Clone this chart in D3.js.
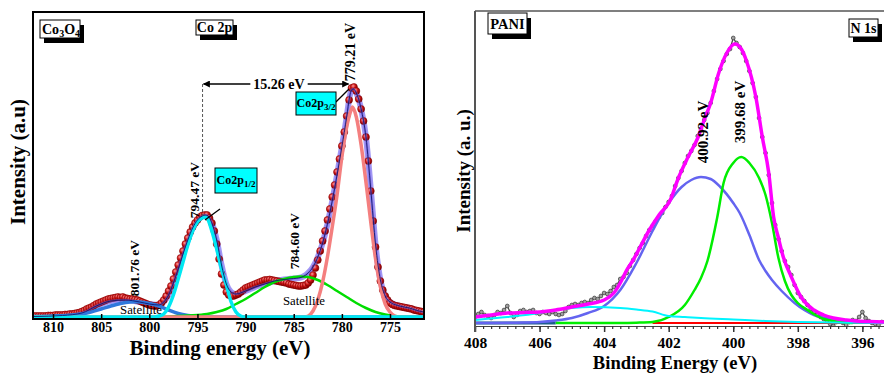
<!DOCTYPE html>
<html><head><meta charset="utf-8">
<script src="https://cdn.jsdelivr.net/npm/d3@7"></script>
<style>
body{margin:0;background:#fff}
svg{display:block}
text{font-family:"Liberation Serif","Times New Roman",serif}
</style></head>
<body><svg id="chart" width="884" height="374"></svg>
<script>
// ---------------- DATA : Co 2p (Co3O4) ----------------
const co2pStart = 812, co2pStep = 0.25;   // binding energy grid of measured spectrum (eV)
const co2pIntensity = [
 1,1,1,1, 1,1,1.5,1.5, 1.5,2,2,2, 2,2.5,2.5,3, 3,3.5,4,4.5,
 5.5,6.5,8,9, 10,11.5,13,14, 15,16,17,18, 18.5,19,19.5,20, 19.5,20,19,18.5,
 18,18,17.5,17, 16,15,14,13, 12,11.5,11,11, 12,14,17,21, 26,31,38,45,
 52,59,66,73, 79,85,90,94, 97,100,101.5,102, 102,99,94,86, 73,58,43,32,
 25,22,21,21, 22,23,25,27, 29,30,31,32, 33,34,35,36, 37,37,37.5,37,
 36.5,36,35.5,35, 34.5,34,33,32.5, 32,31.5,31,31, 31.5,32,34,37, 42,49,57,66,
 76,86,97,108, 120,132,145,158, 171,185,201,217, 229,230,226,218, 208,196,180,156,
 126,96,70,50, 36,27,21,17, 14,12.5,11.5,11, 10.5,10,9.5,9, 8.5,8,7,6.5,
 6,5.5,5
];
const co2pEnvelope = [[812,0.5],[809,1.5],[807,4],[805.5,11],[804,16],[802.5,17],[801,15],[800,13],[799,12],[798.5,15],[798,22],[797.5,34],[797,48],[796.5,63],[796,77],[795.5,89],[795,97],[794.5,101],[794.2,102],[793.9,101],[793.5,94],[793,77],[792.5,52],[792,33],[791.5,25],[791,23],[790,26],[789,30],[788,33],[787,36],[786,37.5],[785,38.5],[784.5,39],[784,40.5],[783.5,44],[783,50],[782.5,60],[782,74],[781.5,93],[781,116],[780.5,142],[780,170],[779.5,200],[779.2,220],[779,227],[778.8,228],[778.5,224],[778,208],[777.5,180],[777,128],[776.5,72],[776,37],[775.5,21],[775,15],[774,11],[773,9],[772,6],[771.5,5]];
const co2p32 = [[812,0],[784,0],[783.5,1],[783,6],[782.5,17],[782,35],[781.5,60],[781,90],[780.5,122],[780,160],[779.5,190],[779,208],[778.9,210],[778.5,200],[778,172],[777.5,135],[777,95],[776.5,58],[776,30],[775.5,13],[775,5],[774.5,1],[774,0],[771.5,0]];
const co2p12 = [[812,0],[799.5,0],[799,1],[798.5,3],[798,10],[797.5,22],[797,38],[796.5,55],[796,72],[795.5,86],[795,95],[794.5,99],[794.2,100],[794,99],[793.5,86],[793,68],[792.5,48],[792,32],[791.5,15],[791,5],[790.5,1],[790,0],[771.5,0]];
const satGreen = [[800,0],[798,0.5],[796,1.5],[794,3],[793,5],[792,8],[791,13],[790,18],[789,24],[788,30],[787,35],[786,38],[785,40],[784.3,40.5],[783.5,40],[782.5,37],[781.5,32],[780.5,26],[779.5,20],[778.5,14],[777.5,9],[776.5,5],[775.5,2.5],[774.5,1],[773,0]];
const satBlue = [[812,0.5],[810,1],[808,2],[806.5,4],[805,8],[804,11],[803,13.5],[802,15],[801.5,15.2],[801,15],[800,13.5],[799,11],[798,7],[797,3.5],[796,1.5],[795,0.5],[793,0],[771.5,0]];
const co2pTicks = [810,805,800,795,790,785,780,775];
const co2pPeaks = {p32:779.21, p12:794.47, sat1:784.60, sat2:801.76};

// ---------------- DATA : N 1s (PANI) ----------------
const n1sStart = 408.0, n1sStep = 0.1;
const n1sIntensity = [
 6,9,11,8,7,5,8,11,10,13,
 17,10,6,8,12,13,11,12,13,10,
 9,11,10,9,11,9,8,9,12,16,
 18,19,18,20,21,20,23,25,24,27,
 30,29,32,36,38,44,46,50,57,63,
 69,75,80,87,93,97,102,106,110,116,
 121,127,137,145,152,160,167,172,178,187,
 194,203,210,220,232,244,254,262,269,274,
 285,280,276,270,262,252,240,226,205,186,
 170,148,120,98,84,72,62,56,48,38,
 30,26,22,18,14,11,8,6,4,2,
 -1,-3,1,2,0,-2,1,3,2,6,
 11,5,2,0,-1,-2,1,1
];
const n1sEnvelope = [[408,6],[407.5,8],[407,10],[406.5,10.5],[406,11],[405.5,13],[405,16],[404.5,19],[404,23],[403.7,30],[403.5,40],[403.3,53],[403.1,63],[402.9,75],[402.6,93],[402.3,108],[401.95,123],[401.7,145],[401.4,166],[401.1,185],[400.9,203],[400.7,220],[400.45,250],[400.2,270],[399.95,279],[399.75,274],[399.6,263],[399.3,226],[399.1,186],[398.9,150],[398.75,106],[398.6,85],[398.45,66],[398.2,46],[397.9,26],[397.5,13],[397.2,8],[396.9,5],[396.5,3],[396.2,2],[395.8,1.5],[395.3,1]];
const n1sGreen = [[405.5,0],[403.5,0],[403,0.3],[402.5,1],[402,6],[401.5,18],[401.2,33],[401,45],[400.8,62],[400.5,105],[400.3,140],[400,160],[399.75,166],[399.5,160],[399.2,145],[399,128],[398.8,100],[398.6,65],[398.4,42],[398.2,28],[398,20],[397.7,13],[397.4,7],[397.2,4],[396.8,1.5],[396.3,0]];
const n1sBlue = [[408,0],[406.5,0.5],[406,1],[405.5,2.5],[405,5],[404.5,10],[404,17],[403.5,33],[403,60],[402.5,92],[402.2,110],[402,120],[401.6,136],[401.3,143],[401,146],[400.7,144],[400.4,136],[400,120],[399.8,110],[399.5,88],[399.2,63],[399,52],[398.8,43],[398.5,32],[398.1,20],[397.8,13],[397.5,8],[397,4],[396.5,2],[396,1],[395.3,0.5]];
const n1sCyan = [[408,3],[407,6],[406,10],[405.5,13],[405,15],[404.4,16],[403.5,15],[403,13.5],[402.5,11.5],[402,7],[401.5,6],[401,5],[400,3.5],[399,2],[398,1],[397,0.5],[395.3,0]];
const n1sBaseTeal = [[408,0],[405.5,0]];
const n1sBaseRed = [[402.5,0],[395.3,0]];
const n1sMajorTicks = [408,406,404,402,400,398,396];
const n1sPeaks = {a:400.92, b:399.68};

// ---------------- DRAWING ----------------
const svg = d3.select("#chart");
const defs = svg.append("defs");
const grad = defs.append("radialGradient").attr("id","ball").attr("cx","38%").attr("cy","35%").attr("r","65%");
grad.append("stop").attr("offset","0%").attr("stop-color","#ff9c9c");
grad.append("stop").attr("offset","50%").attr("stop-color","#d01515");
grad.append("stop").attr("offset","100%").attr("stop-color","#780000");
defs.append("marker").attr("id","arr").attr("viewBox","0 0 10 10").attr("refX",9).attr("refY",5)
  .attr("markerWidth",9).attr("markerHeight",7).attr("markerUnits","userSpaceOnUse").attr("orient","auto")
  .append("path").attr("d","M0,0L10,5L0,10z").attr("fill","#000");

function boxLabel(g, x, y, w, h, build, fill, shadow){
  if(shadow) g.append("rect").attr("x",x+4).attr("y",y+5).attr("width",w).attr("height",h).attr("fill","#000");
  g.append("rect").attr("x",x).attr("y",y).attr("width",w).attr("height",h).attr("fill",fill).attr("stroke","#000").attr("stroke-width",1);
  const t = g.append("text").attr("font-weight","bold");
  build(t);
  return t;
}

// ===== LEFT PANEL =====
const L = {x0:33, x1:424, y0:12, y1:319};
const xL = d3.scaleLinear().domain([812.08, 771.47]).range([L.x0, L.x1]);
const yL = d3.scaleLinear().domain([0, 305]).range([317, 12]);
const gL = svg.append("g");
defs.append("clipPath").attr("id","clipL").append("rect").attr("x",L.x0).attr("y",L.y0).attr("width",L.x1-L.x0).attr("height",L.y1-L.y0+1);
const pL = gL.append("g").attr("clip-path","url(#clipL)");
const lineL = d3.line().x(d=>xL(d[0])).y(d=>yL(d[1])).curve(d3.curveMonotoneX);

pL.append("path").attr("d",lineL(co2pEnvelope)).attr("fill","none").attr("stroke","#8a7cf2").attr("stroke-width",6).attr("stroke-opacity",0.8);
pL.selectAll("circle.pt").data(co2pIntensity).join("circle").attr("class","pt")
  .attr("cx",(d,i)=>xL(co2pStart - i*co2pStep)).attr("cy",d=>yL(d)).attr("r",3.5)
  .attr("fill","url(#ball)").attr("stroke","#8a0000").attr("stroke-width",0.6);
pL.append("path").attr("d",lineL(co2pEnvelope)).attr("fill","none").attr("stroke","#6b5cd8").attr("stroke-width",2.5).attr("stroke-opacity",0.55);
pL.append("path").attr("d",lineL(satBlue)).attr("fill","none").attr("stroke","#2f78dc").attr("stroke-width",3.5);
pL.append("path").attr("d",lineL(satGreen)).attr("fill","none").attr("stroke","#00dd00").attr("stroke-width",2.5);
pL.append("path").attr("d",lineL(co2p32)).attr("fill","none").attr("stroke","#f47f7f").attr("stroke-width",3.5);
pL.append("path").attr("d",lineL(co2p12)).attr("fill","none").attr("stroke","#00e8f2").attr("stroke-width",3.5);
pL.append("path").attr("d",lineL(co2pEnvelope)).attr("fill","none").attr("stroke","#14146e").attr("stroke-width",0.9);

// axis
const axL = d3.axisBottom(xL).tickValues(co2pTicks).tickSize(-5).tickPadding(3.5).tickFormat(d3.format("d"));
const axLg = gL.append("g").attr("transform",`translate(0,${L.y1})`).call(axL);
axLg.select(".domain").remove();
axLg.selectAll(".tick line").attr("stroke","#000").attr("stroke-width",1.5);
axLg.selectAll(".tick text").attr("font-family",'"Liberation Serif","Times New Roman",serif').attr("font-size",14).attr("font-weight","bold").attr("fill","#000");
gL.append("rect").attr("x",L.x0).attr("y",L.y0).attr("width",L.x1-L.x0).attr("height",L.y1-L.y0).attr("fill","none").attr("stroke","#000").attr("stroke-width",2);

// titles
gL.append("text").attr("x",220).attr("y",354.5).attr("text-anchor","middle").attr("font-size",21).attr("font-weight","bold").text("Binding energy (eV)");
gL.append("text").attr("transform","translate(25,162) rotate(-90)").attr("text-anchor","middle").attr("font-size",21).attr("font-weight","bold").text("Intensity (a.u)");

// label boxes
boxLabel(gL,40,20,40,18,t=>{t.attr("x",42).attr("y",33.5).attr("font-size",14);
  t.append("tspan").text("Co"); t.append("tspan").attr("font-size",10).attr("dy",3).text("3");
  t.append("tspan").attr("dy",-3).text("O"); t.append("tspan").attr("font-size",10).attr("dy",3).text("4");},"#fff",true);
boxLabel(gL,196,20,37,15,t=>{t.attr("x",214.5).attr("y",32).attr("text-anchor","middle").attr("font-size",14).text("Co 2p");},"#fff",true);

// peak annotations
const yArrow = yL(233);
const xa = xL(co2pPeaks.p12), xb = xL(co2pPeaks.p32);
gL.append("line").attr("x1",xa).attr("x2",xa).attr("y1",yArrow).attr("y2",yL(101)).attr("stroke","#555").attr("stroke-width",1).attr("stroke-dasharray","3,2");
const tc = (xa+xb)/2+3;
const tArr = gL.append("text").attr("x",tc).attr("y",yArrow+5).attr("text-anchor","middle").attr("font-size",14).attr("font-weight","bold").text((co2pPeaks.p12-co2pPeaks.p32).toFixed(2)+" eV");
const tw = tArr.node().getComputedTextLength();
gL.append("line").attr("x1",tc-tw/2-3).attr("x2",xa+1).attr("y1",yArrow).attr("y2",yArrow).attr("stroke","#000").attr("stroke-width",1.5).attr("marker-end","url(#arr)");
gL.append("line").attr("x1",tc+tw/2+3).attr("x2",xb-1).attr("y1",yArrow).attr("y2",yArrow).attr("stroke","#000").attr("stroke-width",1.5).attr("marker-end","url(#arr)");

function vlabel(g, x, y, str, size){
  g.append("text").attr("transform",`translate(${x},${y}) rotate(-90)`).attr("text-anchor","middle").attr("font-size",size).attr("font-weight","bold").text(str);
}
vlabel(gL, xL(778.62), yL(265), co2pPeaks.p32.toFixed(2)+" eV", 14);
vlabel(gL, xL(794.84), yL(127), co2pPeaks.p12.toFixed(2)+" eV", 13.5);
vlabel(gL, xL(784.45), yL(76), co2pPeaks.sat1.toFixed(2)+" eV", 13.5);
vlabel(gL, xL(801.07), yL(49), co2pPeaks.sat2.toFixed(2)+" eV", 13.5);
gL.append("text").attr("x",xL(783.94)).attr("y",yL(12)).attr("text-anchor","middle").attr("font-size",12.8).text("Satellite");
gL.append("text").attr("x",xL(800.86)).attr("y",yL(3)).attr("text-anchor","middle").attr("font-size",12.8).text("Satellite");

// cyan boxes + leader lines
gL.append("line").attr("x1",xL(780.62)).attr("y1",yL(215)).attr("x2",xL(779.26)).attr("y2",yL(228)).attr("stroke","#000").attr("stroke-width",1.3);
gL.append("line").attr("x1",xL(794.22)).attr("y1",yL(97)).attr("x2",xL(792.66)).attr("y2",yL(108)).attr("stroke","#000").attr("stroke-width",1.3);
boxLabel(gL,296,92,40,23,t=>{t.attr("x",316).attr("y",107).attr("text-anchor","middle").attr("font-size",12);
  t.append("tspan").text("Co2p"); t.append("tspan").attr("font-size",9).attr("dy",3).text("3/2");},"#00ffff",false);
boxLabel(gL,215,168,42,25,t=>{t.attr("x",236).attr("y",184).attr("text-anchor","middle").attr("font-size",12);
  t.append("tspan").text("Co2p"); t.append("tspan").attr("font-size",9).attr("dy",3).text("1/2");},"#00ffff",false);

// ===== RIGHT PANEL =====
const R = {x0:475, x1:884, y0:11, y1:326};
const xR = d3.scaleLinear().domain([408, 395.33]).range([R.x0, R.x1]);
const yR = d3.scaleLinear().domain([0, 312]).range([323, 11]);
const gR = svg.append("g");
defs.append("clipPath").attr("id","clipR").append("rect").attr("x",R.x0).attr("y",R.y0).attr("width",R.x1-R.x0).attr("height",R.y1-R.y0);
const pR = gR.append("g").attr("clip-path","url(#clipR)");
const lineR = d3.line().x(d=>xR(d[0])).y(d=>yR(d[1])).curve(d3.curveMonotoneX);
const n1sPts = n1sIntensity.map((v,i)=>[+(n1sStart - i*n1sStep).toFixed(2), v]);

pR.append("path").attr("d",d3.line().x(d=>xR(d[0])).y(d=>yR(d[1]))(n1sPts)).attr("fill","none").attr("stroke","#4a4a4a").attr("stroke-width",1.3);
pR.selectAll("circle.pt").data(n1sPts).join("circle").attr("class","pt").attr("cx",d=>xR(d[0])).attr("cy",d=>yR(d[1])).attr("r",1.9)
  .attr("fill","#a0a0a0").attr("stroke","#3a3a3a").attr("stroke-width",0.7);
pR.append("path").attr("d",lineR(n1sBaseRed)).attr("fill","none").attr("stroke","#ff0000").attr("stroke-width",2);
pR.append("path").attr("d",lineR(n1sBaseTeal)).attr("fill","none").attr("stroke","#1d5e8c").attr("stroke-width",3);
pR.append("path").attr("d",lineR(n1sBlue)).attr("fill","none").attr("stroke","#6464f0").attr("stroke-width",2.5);
pR.append("path").attr("d",lineR(n1sGreen)).attr("fill","none").attr("stroke","#00ee00").attr("stroke-width",2.5);
pR.append("path").attr("d",lineR(n1sCyan)).attr("fill","none").attr("stroke","#00f4ff").attr("stroke-width",2);
pR.append("path").attr("d",lineR(n1sEnvelope)).attr("fill","none").attr("stroke","#ff00ff").attr("stroke-width",3.5);

// axes
const axRminor = d3.axisBottom(xR).tickValues(d3.range(408, 395.2, -0.25)).tickSize(3).tickFormat("");
const gmin = gR.append("g").attr("transform",`translate(0,${R.y1})`).call(axRminor);
gmin.select(".domain").attr("stroke","#444").attr("stroke-width",1);
gmin.selectAll(".tick line").attr("stroke","#333").attr("stroke-width",1.2);
const axR = d3.axisBottom(xR).tickValues(n1sMajorTicks).tickSize(6).tickPadding(5).tickFormat(d3.format("d"));
const gmaj = gR.append("g").attr("transform",`translate(0,${R.y1})`).call(axR);
gmaj.select(".domain").remove();
gmaj.selectAll(".tick line").attr("stroke","#333").attr("stroke-width",1.5);
gmaj.selectAll(".tick text").attr("font-family",'"Liberation Serif","Times New Roman",serif').attr("font-size",15.5).attr("font-weight","bold").attr("fill","#000");
gR.append("line").attr("x1",R.x0).attr("x2",R.x0).attr("y1",R.y0).attr("y2",R.y1+6).attr("stroke","#555").attr("stroke-width",2);
gR.append("line").attr("x1",R.x0).attr("x2",R.x1).attr("y1",R.y0).attr("y2",R.y0).attr("stroke","#555").attr("stroke-width",1.5);

gR.append("text").attr("x",675).attr("y",369).attr("text-anchor","middle").attr("font-size",18.6).attr("font-weight","bold").text("Binding Energy (eV)");
gR.append("text").attr("transform","translate(470,171) rotate(-90)").attr("text-anchor","middle").attr("font-size",19).attr("font-weight","bold").text("Intensity (a. u.)");

boxLabel(gR,488,13,39,21,t=>{t.attr("x",507.5).attr("y",29).attr("text-anchor","middle").attr("font-size",14.5).text("PANI");},"#fff",true);
boxLabel(gR,849,19,29,18,t=>{t.attr("x",863.5).attr("y",33).attr("text-anchor","middle").attr("font-size",14).text("N 1s");},"#fff",true);

vlabel(gR, xR(400.78), yR(191), n1sPeaks.a.toFixed(2)+" eV", 15);
vlabel(gR, xR(399.64), yR(211), n1sPeaks.b.toFixed(2)+" eV", 15);
</script>
</body></html>
